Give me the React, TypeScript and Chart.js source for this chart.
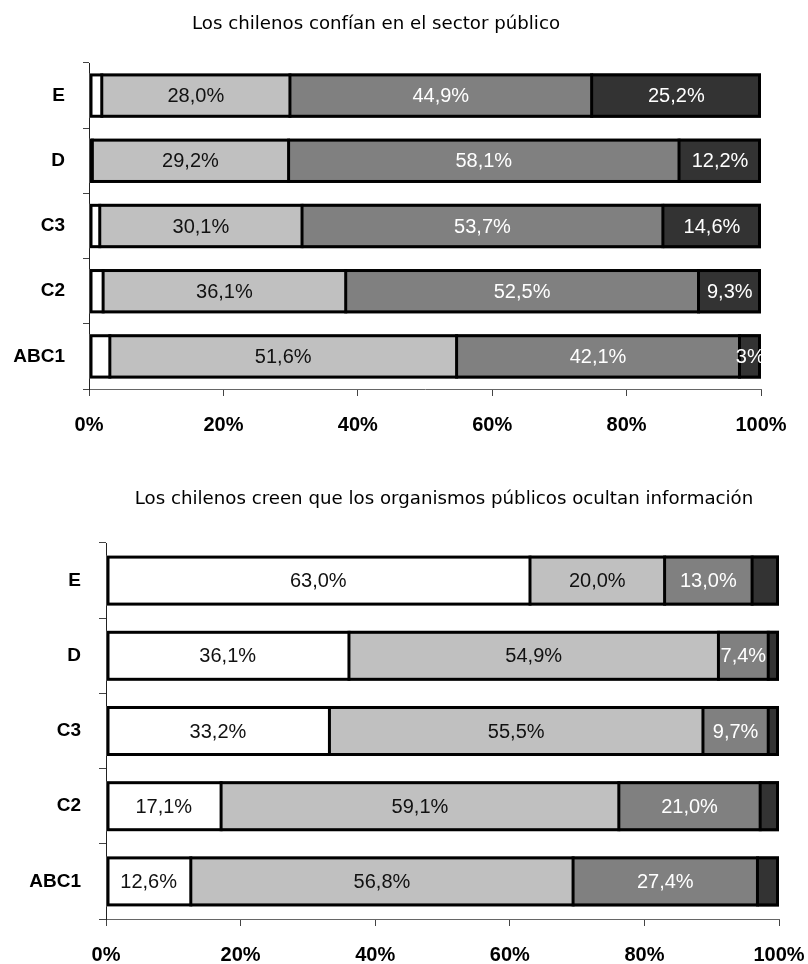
import React, { useEffect, useRef } from "react";
import { Chart, registerables } from "chart.js";

Chart.register(...registerables);

// ---------- data ----------
const categories = ["E", "D", "C3", "C2", "ABC1"];
const xTickValues = [0, 20, 40, 60, 80, 100];

const title1 = "Los chilenos confían en el sector público";
const top1White = [1.9, 0.5, 1.6, 2.1, 3.1];
const top1Light = [28.0, 29.2, 30.1, 36.1, 51.6];
const top1Mid = [44.9, 58.1, 53.7, 52.5, 42.1];
const top1Dark = [25.2, 12.2, 14.6, 9.3, 3.2];
const top1DarkLabels = ["25,2%", "12,2%", "14,6%", "9,3%", "3%"];

const title2 = "Los chilenos creen que los organismos públicos ocultan información";
const bot2White = [63.0, 36.1, 33.2, 17.1, 12.6];
const bot2Light = [20.0, 54.9, 55.5, 59.1, 56.8];
const bot2Mid = [13.0, 7.4, 9.7, 21.0, 27.4];
const bot2Dark = [4.0, 1.6, 1.6, 2.8, 3.2];

// ---------- styles ----------
const COLORS = ["#ffffff", "#c0c0c0", "#808080", "#333333"];
const TEXT_COLORS = ["#111111", "#111111", "#ffffff", "#ffffff"];
const fmt = (v: number) => v.toFixed(1).replace(".", ",") + "%";

type ChartSpec = {
  title: string;
  titleX: number;
  titleY: number;
  series: number[][];
  labels: (string[] | null)[];
  height: number;
  padTop: number;
  padRight: number;
  yWidth: number;
  xHeight: number;
  barPct: number;
  yTickLen: number;
};

const titlePlugin = {
  id: "customTitle",
  afterDraw(chart: any, _args: any, opts: any) {
    const ctx = chart.ctx;
    ctx.save();
    ctx.font = "18.2px 'DejaVu Sans'";
    ctx.fillStyle = "#000";
    ctx.textAlign = "center";
    ctx.textBaseline = "middle";
    ctx.fillText(opts.text, opts.x, opts.y);
    ctx.restore();
  },
};

// black outline around each stacked row, plus separators between segments
const outlinePlugin = {
  id: "rowOutline",
  afterDatasetsDraw(chart: any) {
    const ctx = chart.ctx;
    const n = chart.data.datasets.length;
    const first = chart.getDatasetMeta(0).data;
    const last = chart.getDatasetMeta(n - 1).data;
    ctx.save();
    ctx.strokeStyle = "#000";
    ctx.lineWidth = 3;
    first.forEach((el: any, i: number) => {
      const l = Math.min(el.base, el.x);
      const r = last[i].x;
      const t = el.y - el.height / 2;
      const h = el.height;
      for (let d = 0; d < n - 1; d++) {
        const seg = chart.getDatasetMeta(d).data[i];
        ctx.beginPath();
        ctx.moveTo(seg.x, t);
        ctx.lineTo(seg.x, t + h);
        ctx.stroke();
      }
      ctx.strokeRect(l + 1.5, t + 1.5, r - l - 3, h - 3);
    });
    ctx.restore();
  },
};

const dataLabelPlugin = {
  id: "segLabels",
  afterDatasetsDraw(chart: any, _args: any, opts: any) {
    const ctx = chart.ctx;
    const area = chart.chartArea;
    ctx.save();
    ctx.beginPath();
    ctx.rect(area.left, area.top, area.right - area.left, area.bottom - area.top);
    ctx.clip();
    ctx.font = "20px 'Liberation Sans', Arial";
    ctx.textAlign = "center";
    ctx.textBaseline = "middle";
    chart.data.datasets.forEach((_ds: any, di: number) => {
      const labels = opts.labels[di];
      if (!labels) return;
      const meta = chart.getDatasetMeta(di);
      meta.data.forEach((el: any, i: number) => {
        const cx = (el.x + el.base) / 2;
        ctx.fillStyle = TEXT_COLORS[di];
        ctx.fillText(labels[i], cx, el.y + 1);
      });
    });
    ctx.restore();
  },
};

function StackedChart({ spec }: { spec: ChartSpec }) {
  const ref = useRef<HTMLCanvasElement | null>(null);
  useEffect(() => {
    if (!ref.current) return;
    const chart = new Chart(ref.current, {
      type: "bar",
      data: {
        labels: categories,
        datasets: spec.series.map((s, i) => ({
          label: "s" + i,
          data: s,
          backgroundColor: COLORS[i],
          borderWidth: 0,
          inflateAmount: 0,
          barPercentage: spec.barPct,
          categoryPercentage: 1,
        })),
      },
      options: {
        indexAxis: "y",
        responsive: false,
        animation: false,
        layout: { padding: { top: spec.padTop, right: spec.padRight, left: 0, bottom: 0 } },
        plugins: {
          legend: { display: false },
          tooltip: { enabled: false },
          title: { display: false },
          customTitle: { text: spec.title, x: spec.titleX, y: spec.titleY },
          segLabels: { labels: spec.labels },
        } as any,
        scales: {
          x: {
            stacked: true,
            min: 0,
            max: 100,
            afterBuildTicks: (scale: any) => {
              scale.ticks = xTickValues.map((v) => ({ value: v }));
            },
            afterFit: (scale: any) => {
              scale.height = spec.xHeight;
              scale.paddingLeft = 0;
              scale.paddingRight = 0;
            },
            ticks: {
              callback: (v: any) => v + "%",
              font: { family: "'Liberation Sans', Arial", size: 20, weight: "bold" },
              color: "#000",
              padding: 17,
              maxRotation: 0,
            },
            grid: { drawOnChartArea: false, drawTicks: true, tickLength: 7, color: "#444", lineWidth: 1 },
            border: { display: true, color: "#666", width: 1 },
          },
          y: {
            stacked: true,
            afterFit: (scale: any) => {
              scale.width = spec.yWidth;
            },
            ticks: {
              font: { family: "'Liberation Sans', Arial", size: 19, weight: "bold" },
              color: "#000",
              padding: 18,
            },
            grid: { drawOnChartArea: false, drawTicks: true, tickLength: spec.yTickLen, color: "#444", lineWidth: 1, offset: true },
            border: { display: true, color: "#222", width: 1 },
          },
        },
      } as any,
      plugins: [titlePlugin, outlinePlugin, dataLabelPlugin],
    });
    return () => chart.destroy();
  }, [spec]);
  return <canvas ref={ref} width={808} height={spec.height} style={{ display: "block", width: 808, height: spec.height }} />;
}

const spec1: ChartSpec = {
  title: title1,
  titleX: 376,
  titleY: 24,
  series: [top1White, top1Light, top1Mid, top1Dark],
  labels: [null, top1Light.map(fmt), top1Mid.map(fmt), top1DarkLabels],
  height: 450,
  padTop: 63,
  padRight: 47,
  yWidth: 89,
  xHeight: 61,
  barPct: 0.68,
  yTickLen: 6,
};

const spec2: ChartSpec = {
  title: title2,
  titleX: 444,
  titleY: 29,
  series: [bot2White, bot2Light, bot2Mid, bot2Dark],
  labels: [bot2White.map(fmt), bot2Light.map(fmt), bot2Mid.map(fmt), null],
  height: 494,
  padTop: 73,
  padRight: 29,
  yWidth: 106,
  xHeight: 45,
  barPct: 0.665,
  yTickLen: 7,
};

export default function App() {
  return (
    <div style={{ position: "absolute", left: 0, top: 0, width: 808, height: 964, background: "#fff" }}>
      <div style={{ position: "absolute", left: 0, top: 0 }}>
        <StackedChart spec={spec1} />
      </div>
      <div style={{ position: "absolute", left: 0, top: 470 }}>
        <StackedChart spec={spec2} />
      </div>
    </div>
  );
}
